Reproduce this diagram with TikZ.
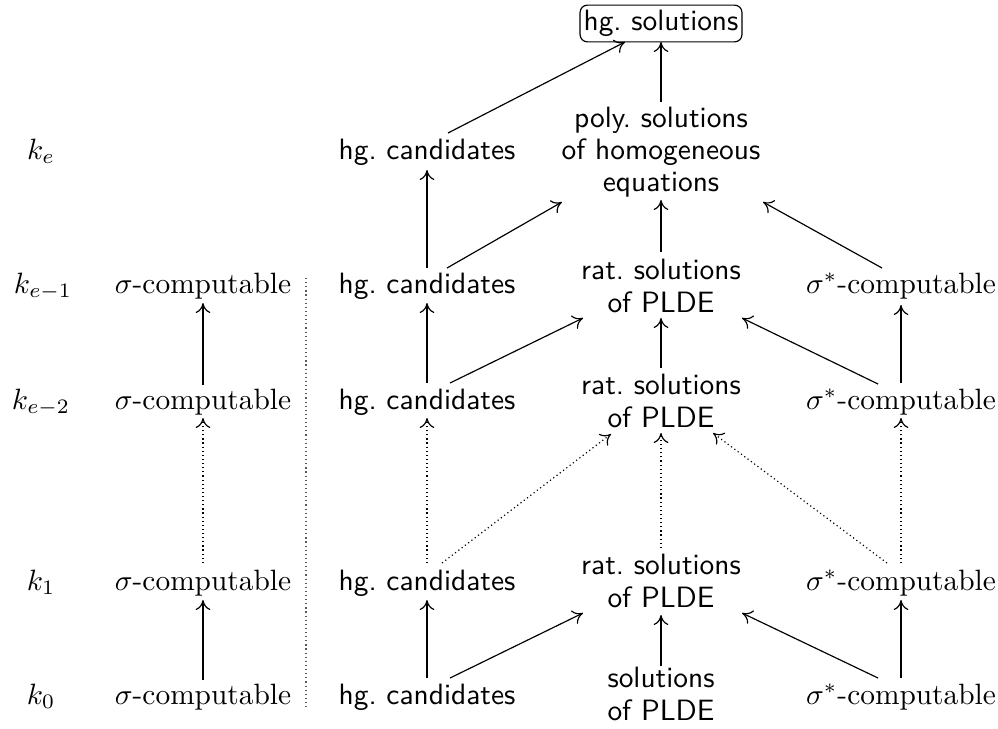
\documentclass[tikz,border=0pt]{standalone}
\usetikzlibrary{calc,arrows.meta}
\begin{document}
\begin{tikzpicture}[x=0.3401pt,y=-0.3401pt,
  >={Computer Modern Rightarrow[length=3.4pt,width=5pt]},
  lab/.style={inner sep=2pt, text height=6.94pt, text depth=1.94pt},
  sf/.style={font=\sffamily\frenchspacing, inner sep=2pt, text height=6.94pt, text depth=1.94pt},
  ml/.style={font=\sffamily\fontsize{10}{11}\selectfont\frenchspacing, align=center, inner sep=2pt},
  topbox/.style={draw, rounded corners=2.5pt, font=\sffamily\frenchspacing, inner xsep=1.2pt, inner ysep=1.8pt, text height=6.94pt, text depth=1.94pt},
  ar/.style={->},
  dar/.style={->, densely dotted},
  sepline/.style={densely dotted, black!65}]
\useasboundingbox (0,0) rectangle (998,728);
% top
\node[topbox] (box) at (661,23.5) {hg. solutions};
% level labels
\node[lab] (lE)  at (41,152) {$k_e$};
\node[lab] (lE1) at (43,286) {$k_{e-1}$};
\node[lab] (lE2) at (41,402) {$k_{e-2}$};
\node[lab] (l1)  at (41,583) {$k_1$};
\node[lab] (l0)  at (41,697) {$k_0$};
% sigma column
\node[lab] (sE1) at (203,286) {$\sigma$-computable};
\node[lab] (sE2) at (203,402) {$\sigma$-computable};
\node[lab] (s1)  at (203,583) {$\sigma$-computable};
\node[lab] (s0)  at (203,697) {$\sigma$-computable};
% hg candidates column
\node[sf] (hE)  at (427,152) {hg. candidates};
\node[sf] (hE1) at (427,286) {hg. candidates};
\node[sf] (hE2) at (427,402) {hg. candidates};
\node[sf] (h1)  at (427,583) {hg. candidates};
\node[sf] (h0)  at (427,697) {hg. candidates};
% solutions column
\node[ml] (poly) at (661,152) {poly. solutions\\of homogeneous\\equations};
\node[ml] (rE1)  at (661,286) {rat. solutions\\of PLDE};
\node[ml] (rE2)  at (661,401) {rat. solutions\\of PLDE};
\node[ml] (r1)   at (661,581) {rat. solutions\\of PLDE};
\node[ml] (sol)  at (661,694) {solutions\\of PLDE};
% sigma* column
\node[lab] (tE1) at (901,286) {$\sigma^*$-computable};
\node[lab] (tE2) at (901,402) {$\sigma^*$-computable};
\node[lab] (t1)  at (901,583) {$\sigma^*$-computable};
\node[lab] (t0)  at (901,697) {$\sigma^*$-computable};
% separator
\coordinate (sepT) at (306,278);
\coordinate (sepB) at (306,708);
\draw[sepline] (sepT) -- (sepB);
% sigma column arrows
\draw[ar]  ($(sE2)+(0,-17)$) -- ($(sE1)+(0,17)$);
\draw[dar] ($(s1)+(0,-20)$)  -- ($(sE2)+(0,16)$);
\draw[ar]  ($(s0)+(0,-17)$)  -- ($(s1)+(0,17)$);
% hg column arrows
\draw[ar]  ($(hE1)+(0,-18)$) -- ($(hE)+(0,18)$);
\draw[ar]  ($(hE2)+(0,-19)$) -- ($(hE1)+(0,17)$);
\draw[dar] ($(h1)+(0,-20)$)  -- ($(hE2)+(0,16)$);
\draw[ar]  ($(h0)+(0,-19)$)  -- ($(h1)+(0,17)$);
% solutions column arrows
\draw[ar]  ($(poly)+(0,-50)$) -- ($(box)+(0,18.5)$);
\draw[ar]  ($(rE1)+(0,-34)$)  -- ($(poly)+(0,48)$);
\draw[ar]  ($(rE2)+(0,-33)$)  -- ($(rE1)+(0,32)$);
\draw[dar] ($(r1)+(0,-33)$)   -- ($(rE2)+(0,32)$);
\draw[ar]  ($(sol)+(0,-28)$)  -- ($(r1)+(0,34)$);
% sigma* column arrows
\draw[ar]  ($(tE2)+(0,-19)$) -- ($(tE1)+(0,19)$);
\draw[dar] ($(t1)+(0,-20)$)  -- ($(tE2)+(0,16)$);
\draw[ar]  ($(t0)+(0,-19)$)  -- ($(t1)+(0,17)$);
% diagonal arrows
\draw[ar]  ($(hE)+(21,-19)$)  -- ($(box)+(-36,18.5)$);
\draw[ar]  ($(hE1)+(20,-18)$) -- ($(poly)+(-99,50)$);
\draw[ar]  ($(tE1)+(-19,-18)$) -- ($(poly)+(102,50)$);
\draw[ar]  ($(hE2)+(23,-19)$) -- ($(rE1)+(-78,32)$);
\draw[ar]  ($(tE2)+(-23,-18)$) -- ($(rE1)+(81,32)$);
\draw[dar] ($(h1)+(15,-20)$)  -- ($(rE2)+(-50,33)$);
\draw[dar] ($(t1)+(-14,-20)$) -- ($(rE2)+(52,32)$);
\draw[ar]  ($(h0)+(23,-19)$)  -- ($(r1)+(-78,32)$);
\draw[ar]  ($(t0)+(-23,-19)$) -- ($(r1)+(81,32)$);
\end{tikzpicture}
\end{document}
